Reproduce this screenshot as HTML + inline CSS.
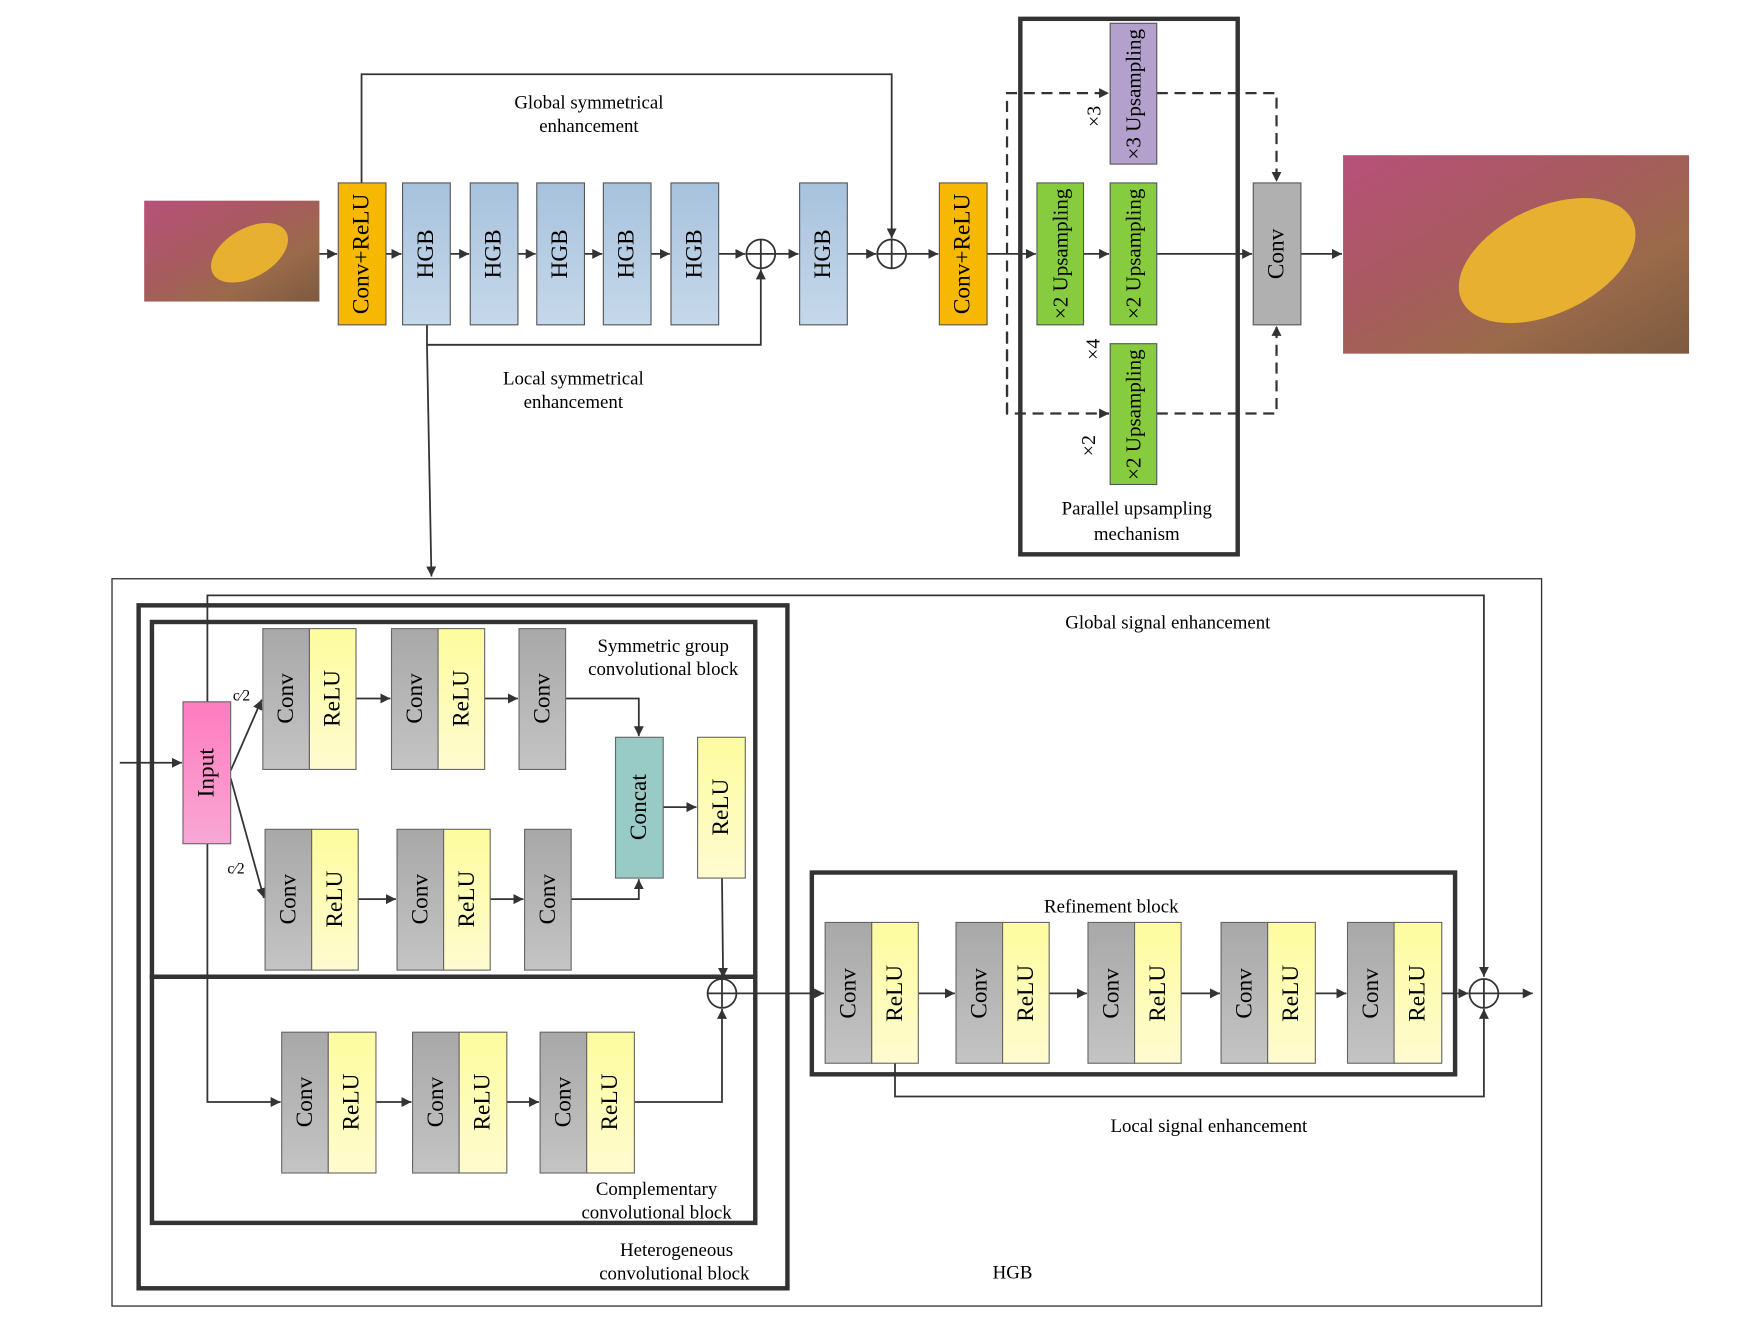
<!DOCTYPE html>
<html><head><meta charset="utf-8"><style>
html,body{margin:0;padding:0;background:#fff;}
svg{display:block;}
text{font-family:"Liberation Serif",serif;fill:#000;}
.lbl{font-size:17px;}
.bt{font-size:21px;}
</style></head><body>
<svg width="1739" height="1326" viewBox="0 0 1568 1196" preserveAspectRatio="none" xmlns="http://www.w3.org/2000/svg">
<defs>
<marker id="a" viewBox="0 0 10 10" refX="10" refY="5" markerWidth="9" markerHeight="9" markerUnits="userSpaceOnUse" orient="auto"><path d="M0,0 L10,5 L0,10 z" fill="#333"/></marker>
<linearGradient id="gr" x1="0" y1="0" x2="0" y2="1"><stop offset="0" stop-color="#a8a8a8"/><stop offset="1" stop-color="#c4c4c4"/></linearGradient>
<linearGradient id="ye" x1="0" y1="0" x2="0" y2="1"><stop offset="0" stop-color="#fdfc9e"/><stop offset="1" stop-color="#fffbd0"/></linearGradient>
<linearGradient id="bl" x1="0" y1="0" x2="0" y2="1"><stop offset="0" stop-color="#a7c2dd"/><stop offset="1" stop-color="#c6d8ea"/></linearGradient>
<linearGradient id="pk" x1="0" y1="0" x2="0" y2="1"><stop offset="0" stop-color="#ff7cc0"/><stop offset="1" stop-color="#f8a8d4"/></linearGradient>
<linearGradient id="img" x1="0" y1="0" x2="1" y2="1"><stop offset="0" stop-color="#b8507a"/><stop offset="0.4" stop-color="#a85a60"/><stop offset="0.7" stop-color="#9a6a4a"/><stop offset="1" stop-color="#7d5a40"/></linearGradient>
</defs>

<rect x="130" y="181" width="158" height="91" fill="url(#img)"/>
<ellipse cx="225" cy="228" rx="38" ry="22" fill="#e8b030" transform="rotate(-30 225 228)"/>
<rect x="1211" y="140" width="312" height="179" fill="url(#img)"/>
<ellipse cx="1395" cy="235" rx="85" ry="48" fill="#e8b030" transform="rotate(-25 1395 235)"/>

<g stroke="#333" stroke-width="1.6" fill="none">
<line x1="288" y1="229" x2="304" y2="229" marker-end="url(#a)"/>
<line x1="348" y1="229" x2="362" y2="229" marker-end="url(#a)"/>
<line x1="406" y1="229" x2="423" y2="229" marker-end="url(#a)"/>
<line x1="467" y1="229" x2="483" y2="229" marker-end="url(#a)"/>
<line x1="527" y1="229" x2="543" y2="229" marker-end="url(#a)"/>
<line x1="587" y1="229" x2="604" y2="229" marker-end="url(#a)"/>
<line x1="648" y1="229" x2="672" y2="229" marker-end="url(#a)"/>
<line x1="699" y1="229" x2="720" y2="229" marker-end="url(#a)"/>
<line x1="764" y1="229" x2="790" y2="229" marker-end="url(#a)"/>
<line x1="817" y1="229" x2="846" y2="229" marker-end="url(#a)"/>
<line x1="890" y1="229" x2="934" y2="229" marker-end="url(#a)"/>
<line x1="977" y1="229" x2="1000" y2="229" marker-end="url(#a)"/>
<line x1="1043" y1="229" x2="1129" y2="229" marker-end="url(#a)"/>
<line x1="1173" y1="229" x2="1210" y2="229" marker-end="url(#a)"/>
<polyline points="326,165 326,67 804,67 804,215" marker-end="url(#a)"/>
<polyline points="385,293 385,311 686,311 686,243" marker-end="url(#a)"/>
<polyline points="385,311 389,520" marker-end="url(#a)"/>
<g stroke-dasharray="10,6" stroke-width="2">
<polyline points="908,373 908,84 1000,84" marker-end="url(#a)"/>
<polyline points="908,300 908,373 1000,373" marker-end="url(#a)"/>
<polyline points="1043,84 1151,84 1151,164" marker-end="url(#a)"/>
<polyline points="1043,373 1151,373 1151,294" marker-end="url(#a)"/>
</g>
<circle cx="686" cy="229" r="13" fill="#fff"/><line x1="673" y1="229" x2="699" y2="229"/><line x1="686" y1="216" x2="686" y2="242"/>
<circle cx="804" cy="229" r="13" fill="#fff"/><line x1="791" y1="229" x2="817" y2="229"/><line x1="804" y1="216" x2="804" y2="242"/>
</g>

<rect x="920" y="17" width="196" height="483" fill="none" stroke="#333" stroke-width="4"/>

<g stroke="#555" stroke-width="1">
<rect x="305" y="165" width="43" height="128" fill="#f6b800"/>
<rect x="363" y="165" width="43" height="128" fill="url(#bl)"/>
<rect x="424" y="165" width="43" height="128" fill="url(#bl)"/>
<rect x="484" y="165" width="43" height="128" fill="url(#bl)"/>
<rect x="544" y="165" width="43" height="128" fill="url(#bl)"/>
<rect x="605" y="165" width="43" height="128" fill="url(#bl)"/>
<rect x="721" y="165" width="43" height="128" fill="url(#bl)"/>
<rect x="847" y="165" width="43" height="128" fill="#f6b800"/>
<rect x="1001" y="21" width="42" height="127" fill="#b4a0cc"/>
<rect x="935" y="165" width="42" height="128" fill="#86cc3e"/>
<rect x="1001" y="165" width="42" height="128" fill="#86cc3e"/>
<rect x="1001" y="310" width="42" height="127" fill="#86cc3e"/>
<rect x="1130" y="165" width="43" height="128" fill="#b0b0b0"/>
</g>
<g class="bt" text-anchor="middle" dominant-baseline="central">
<text transform="translate(326,229) rotate(-90)">Conv+ReLU</text>
<text transform="translate(384,229) rotate(-90)">HGB</text>
<text transform="translate(445,229) rotate(-90)">HGB</text>
<text transform="translate(505,229) rotate(-90)">HGB</text>
<text transform="translate(565,229) rotate(-90)">HGB</text>
<text transform="translate(626,229) rotate(-90)">HGB</text>
<text transform="translate(742,229) rotate(-90)">HGB</text>
<text transform="translate(868,229) rotate(-90)">Conv+ReLU</text>
<text transform="translate(1022,85) rotate(-90)" style="font-size:19px">×3 Upsampling</text>
<text transform="translate(956,229) rotate(-90)" style="font-size:19px">×2 Upsampling</text>
<text transform="translate(1022,229) rotate(-90)" style="font-size:19px">×2 Upsampling</text>
<text transform="translate(1022,374) rotate(-90)" style="font-size:19px">×2 Upsampling</text>
<text transform="translate(1151,229) rotate(-90)">Conv</text>
<text transform="translate(987,105) rotate(-90)" style="font-size:18px">×3</text>
<text transform="translate(986,315) rotate(-90)" style="font-size:18px">×4</text>
<text transform="translate(982,402) rotate(-90)" style="font-size:18px">×2</text>
</g>
<g class="lbl" text-anchor="middle">
<text x="531" y="98">Global symmetrical</text><text x="531" y="119">enhancement</text>
<text x="517" y="347">Local symmetrical</text><text x="517" y="368">enhancement</text>
<text x="1025" y="464">Parallel upsampling</text><text x="1025" y="487">mechanism</text>
</g>

<rect x="101" y="522" width="1289" height="656" fill="none" stroke="#333" stroke-width="1.2"/>
<rect x="125" y="546" width="585" height="616" fill="none" stroke="#333" stroke-width="4"/>
<rect x="137" y="561" width="544" height="320" fill="none" stroke="#333" stroke-width="4"/>
<rect x="137" y="881" width="544" height="222" fill="none" stroke="#333" stroke-width="4"/>
<rect x="732" y="787" width="580" height="182" fill="none" stroke="#333" stroke-width="4"/>

<g stroke="#333" stroke-width="1.6" fill="none">
<polyline points="187,633 187,537 1338,537 1338,881" marker-end="url(#a)"/>
<polyline points="187,761 187,994 253,994" marker-end="url(#a)"/>
<line x1="108" y1="688" x2="164" y2="688" marker-end="url(#a)"/>
<line x1="208" y1="695" x2="236" y2="631" marker-end="url(#a)"/>
<line x1="208" y1="702" x2="238" y2="810" marker-end="url(#a)"/>
<line x1="321" y1="630" x2="352" y2="630" marker-end="url(#a)"/>
<line x1="437" y1="630" x2="467" y2="630" marker-end="url(#a)"/>
<polyline points="510,630 576,630 576,664" marker-end="url(#a)"/>
<line x1="323" y1="811" x2="357" y2="811" marker-end="url(#a)"/>
<line x1="442" y1="811" x2="472" y2="811" marker-end="url(#a)"/>
<polyline points="515,811 576,811 576,793" marker-end="url(#a)"/>
<line x1="598" y1="728" x2="628" y2="728" marker-end="url(#a)"/>
<line x1="651" y1="792" x2="652" y2="882" marker-end="url(#a)"/>
<line x1="339" y1="994" x2="371" y2="994" marker-end="url(#a)"/>
<line x1="457" y1="994" x2="486" y2="994" marker-end="url(#a)"/>
<polyline points="572,994 651,994 651,910" marker-end="url(#a)"/>
<line x1="664" y1="896" x2="743" y2="896" marker-end="url(#a)"/>
<line x1="828" y1="896" x2="861" y2="896" marker-end="url(#a)"/>
<line x1="946" y1="896" x2="980" y2="896" marker-end="url(#a)"/>
<line x1="1065" y1="896" x2="1100" y2="896" marker-end="url(#a)"/>
<line x1="1186" y1="896" x2="1214" y2="896" marker-end="url(#a)"/>
<line x1="1300" y1="896" x2="1324" y2="896" marker-end="url(#a)"/>
<line x1="1351" y1="896" x2="1382" y2="896" marker-end="url(#a)"/>
<polyline points="807,959 807,989 1338,989 1338,910" marker-end="url(#a)"/>
<circle cx="651" cy="896" r="13" fill="#fff"/><line x1="638" y1="896" x2="664" y2="896"/><line x1="651" y1="883" x2="651" y2="909"/>
<circle cx="1338" cy="896" r="13" fill="#fff"/><line x1="1325" y1="896" x2="1351" y2="896"/><line x1="1338" y1="883" x2="1338" y2="909"/>
</g>

<g stroke="#666" stroke-width="1">
<rect x="165" y="633" width="43" height="128" fill="url(#pk)"/>
<rect x="237" y="567" width="42" height="127" fill="url(#gr)"/><rect x="279" y="567" width="42" height="127" fill="url(#ye)"/>
<rect x="353" y="567" width="42" height="127" fill="url(#gr)"/><rect x="395" y="567" width="42" height="127" fill="url(#ye)"/>
<rect x="468" y="567" width="42" height="127" fill="url(#gr)"/>
<rect x="239" y="748" width="42" height="127" fill="url(#gr)"/><rect x="281" y="748" width="42" height="127" fill="url(#ye)"/>
<rect x="358" y="748" width="42" height="127" fill="url(#gr)"/><rect x="400" y="748" width="42" height="127" fill="url(#ye)"/>
<rect x="473" y="748" width="42" height="127" fill="url(#gr)"/>
<rect x="555" y="665" width="43" height="127" fill="#98cbc6"/>
<rect x="629" y="665" width="43" height="127" fill="url(#ye)"/>
<rect x="254" y="931" width="42" height="127" fill="url(#gr)"/><rect x="296" y="931" width="43" height="127" fill="url(#ye)"/>
<rect x="372" y="931" width="42" height="127" fill="url(#gr)"/><rect x="414" y="931" width="43" height="127" fill="url(#ye)"/>
<rect x="487" y="931" width="42" height="127" fill="url(#gr)"/><rect x="529" y="931" width="43" height="127" fill="url(#ye)"/>
<rect x="744" y="832" width="42" height="127" fill="url(#gr)"/><rect x="786" y="832" width="42" height="127" fill="url(#ye)"/>
<rect x="862" y="832" width="42" height="127" fill="url(#gr)"/><rect x="904" y="832" width="42" height="127" fill="url(#ye)"/>
<rect x="981" y="832" width="42" height="127" fill="url(#gr)"/><rect x="1023" y="832" width="42" height="127" fill="url(#ye)"/>
<rect x="1101" y="832" width="42" height="127" fill="url(#gr)"/><rect x="1143" y="832" width="43" height="127" fill="url(#ye)"/>
<rect x="1215" y="832" width="42" height="127" fill="url(#gr)"/><rect x="1257" y="832" width="43" height="127" fill="url(#ye)"/>
</g>
<g class="bt" text-anchor="middle" dominant-baseline="central">
<text transform="translate(186,697) rotate(-90)">Input</text>
<text transform="translate(258,630) rotate(-90)">Conv</text><text transform="translate(300,630) rotate(-90)">ReLU</text>
<text transform="translate(374,630) rotate(-90)">Conv</text><text transform="translate(416,630) rotate(-90)">ReLU</text>
<text transform="translate(489,630) rotate(-90)">Conv</text>
<text transform="translate(260,811) rotate(-90)">Conv</text><text transform="translate(302,811) rotate(-90)">ReLU</text>
<text transform="translate(379,811) rotate(-90)">Conv</text><text transform="translate(421,811) rotate(-90)">ReLU</text>
<text transform="translate(494,811) rotate(-90)">Conv</text>
<text transform="translate(576,728) rotate(-90)">Concat</text>
<text transform="translate(650,728) rotate(-90)">ReLU</text>
<text transform="translate(275,994) rotate(-90)">Conv</text><text transform="translate(317,994) rotate(-90)">ReLU</text>
<text transform="translate(393,994) rotate(-90)">Conv</text><text transform="translate(435,994) rotate(-90)">ReLU</text>
<text transform="translate(508,994) rotate(-90)">Conv</text><text transform="translate(550,994) rotate(-90)">ReLU</text>
<text transform="translate(765,896) rotate(-90)">Conv</text><text transform="translate(807,896) rotate(-90)">ReLU</text>
<text transform="translate(883,896) rotate(-90)">Conv</text><text transform="translate(925,896) rotate(-90)">ReLU</text>
<text transform="translate(1002,896) rotate(-90)">Conv</text><text transform="translate(1044,896) rotate(-90)">ReLU</text>
<text transform="translate(1122,896) rotate(-90)">Conv</text><text transform="translate(1164,896) rotate(-90)">ReLU</text>
<text transform="translate(1236,896) rotate(-90)">Conv</text><text transform="translate(1278,896) rotate(-90)">ReLU</text>
</g>
<g style="font-size:14px">
<text x="210" y="632">c⁄2</text>
<text x="205" y="788">c⁄2</text>
</g>
<g class="lbl" text-anchor="middle">
<text x="598" y="588">Symmetric group</text><text x="598" y="609">convolutional block</text>
<text x="1053" y="567">Global signal enhancement</text>
<text x="1002" y="823">Refinement block</text>
<text x="1090" y="1021">Local signal enhancement</text>
<text x="592" y="1078">Complementary</text><text x="592" y="1099">convolutional block</text>
<text x="610" y="1133">Heterogeneous</text><text x="608" y="1154">convolutional block</text>
<text x="913" y="1153">HGB</text>
</g>
</svg>
</body></html>
